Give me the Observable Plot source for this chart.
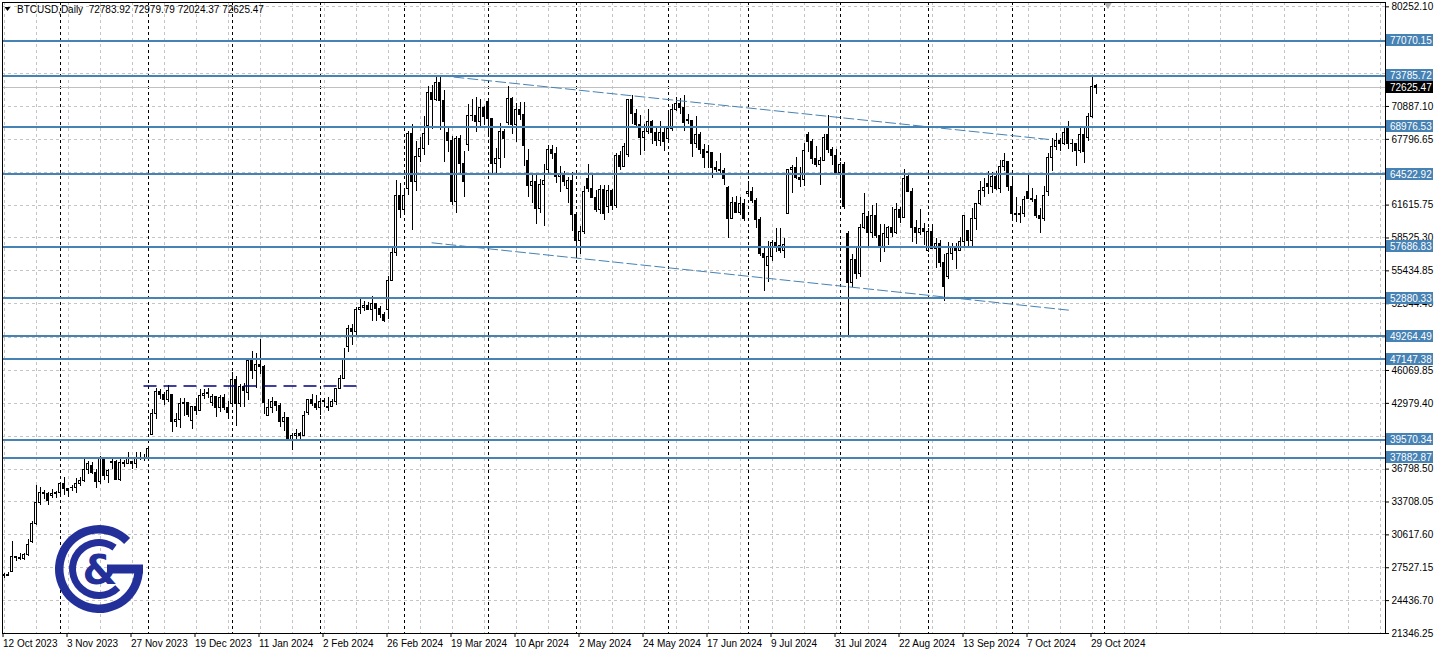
<!DOCTYPE html>
<html>
<head>
<meta charset="utf-8">
<script src="https://cdn.jsdelivr.net/npm/d3@7"></script>
<script src="https://cdn.jsdelivr.net/npm/@observablehq/plot@0.6"></script>
<style>
  html, body { margin: 0; padding: 0; background: #ffffff; overflow: hidden; }
  #chart svg { display: block; }
</style>
</head>
<body>
<div id="chart"></div>
<script>
// ---------------- DATA ----------------
const symbolName = "BTCUSD,Daily";

const dates = [
  "2023-10-12","2023-10-13","2023-10-16","2023-10-17","2023-10-18","2023-10-19","2023-10-20","2023-10-23","2023-10-24","2023-10-25","2023-10-26","2023-10-27","2023-10-30","2023-10-31",
  "2023-11-01","2023-11-02","2023-11-03","2023-11-06","2023-11-07","2023-11-08","2023-11-09","2023-11-10","2023-11-13","2023-11-14","2023-11-15","2023-11-16","2023-11-17","2023-11-20","2023-11-21","2023-11-22","2023-11-23","2023-11-24","2023-11-27","2023-11-28","2023-11-29","2023-11-30",
  "2023-12-01","2023-12-04","2023-12-05","2023-12-06","2023-12-07","2023-12-08","2023-12-11","2023-12-12","2023-12-13","2023-12-14","2023-12-15","2023-12-18","2023-12-19","2023-12-20","2023-12-21","2023-12-22","2023-12-25","2023-12-26","2023-12-27","2023-12-28","2023-12-29",
  "2024-01-02","2024-01-03","2024-01-04","2024-01-05","2024-01-08","2024-01-09","2024-01-10","2024-01-11","2024-01-12","2024-01-15","2024-01-16","2024-01-17","2024-01-18","2024-01-19","2024-01-22","2024-01-23","2024-01-24","2024-01-25","2024-01-26","2024-01-29","2024-01-30","2024-01-31",
  "2024-02-01","2024-02-02","2024-02-05","2024-02-06","2024-02-07","2024-02-08","2024-02-09","2024-02-12","2024-02-13","2024-02-14","2024-02-15","2024-02-16","2024-02-19","2024-02-20","2024-02-21","2024-02-22","2024-02-23","2024-02-26","2024-02-27","2024-02-28","2024-02-29",
  "2024-03-01","2024-03-04","2024-03-05","2024-03-06","2024-03-07","2024-03-08","2024-03-11","2024-03-12","2024-03-13","2024-03-14","2024-03-15","2024-03-18","2024-03-19","2024-03-20","2024-03-21","2024-03-22","2024-03-25","2024-03-26","2024-03-27","2024-03-28","2024-03-29",
  "2024-04-01","2024-04-02","2024-04-03","2024-04-04","2024-04-05","2024-04-08","2024-04-09","2024-04-10","2024-04-11","2024-04-12","2024-04-15","2024-04-16","2024-04-17","2024-04-18","2024-04-19","2024-04-22","2024-04-23","2024-04-24","2024-04-25","2024-04-26","2024-04-29","2024-04-30",
  "2024-05-01","2024-05-02","2024-05-03","2024-05-06","2024-05-07","2024-05-08","2024-05-09","2024-05-10","2024-05-13","2024-05-14","2024-05-15","2024-05-16","2024-05-17","2024-05-20","2024-05-21","2024-05-22","2024-05-23","2024-05-24","2024-05-27","2024-05-28","2024-05-29","2024-05-30","2024-05-31",
  "2024-06-03","2024-06-04","2024-06-05","2024-06-06","2024-06-07","2024-06-10","2024-06-11","2024-06-12","2024-06-13","2024-06-14","2024-06-17","2024-06-18","2024-06-19","2024-06-20","2024-06-21","2024-06-24","2024-06-25","2024-06-26","2024-06-27","2024-06-28",
  "2024-07-01","2024-07-02","2024-07-03","2024-07-04","2024-07-05","2024-07-08","2024-07-09","2024-07-10","2024-07-11","2024-07-12","2024-07-15","2024-07-16","2024-07-17","2024-07-18","2024-07-19","2024-07-22","2024-07-23","2024-07-24","2024-07-25","2024-07-26","2024-07-29","2024-07-30","2024-07-31",
  "2024-08-01","2024-08-02","2024-08-05","2024-08-06","2024-08-07","2024-08-08","2024-08-09","2024-08-12","2024-08-13","2024-08-14","2024-08-15","2024-08-16","2024-08-19","2024-08-20","2024-08-21","2024-08-22","2024-08-23","2024-08-26","2024-08-27","2024-08-28","2024-08-29","2024-08-30",
  "2024-09-02","2024-09-03","2024-09-04","2024-09-05","2024-09-06","2024-09-09","2024-09-10","2024-09-11","2024-09-12","2024-09-13","2024-09-16","2024-09-17","2024-09-18","2024-09-19","2024-09-20","2024-09-23","2024-09-24","2024-09-25","2024-09-26","2024-09-27","2024-09-30",
  "2024-10-01","2024-10-02","2024-10-03","2024-10-04","2024-10-07","2024-10-08","2024-10-09","2024-10-10","2024-10-11","2024-10-14","2024-10-15","2024-10-16","2024-10-17","2024-10-18","2024-10-21","2024-10-22","2024-10-23","2024-10-24","2024-10-25","2024-10-28","2024-10-29","2024-10-30"
];
// empty slots to the right of the last bar (chart shift area)
const futureSlots = ["2024-10-31","2024-11-01","2024-11-04"];

const opens = [
  26870,26760,27150,28520,28410,28330,28720,29990,31650,33600,34600,34500,34300,34500,
  34600,35420,34940,35050,35040,35420,35650,36700,37070,36460,35550,37880,36150,37390,37480,35810,37420,37290,37480,37250,37830,37850,
  37710,39980,41980,44080,43770,43290,43790,41240,41450,42890,43020,41360,42660,42260,43660,43870,42990,43610,42520,43440,42580,
  42900,45150,42900,44560,43930,46970,46000,46630,46370,41800,42510,43150,42740,41260,41580,39570,39890,40080,39940,42030,43300,42940,
  42580,43080,42580,42660,43080,44320,45300,48290,49960,49700,51800,51940,52120,51780,52280,51850,51300,51730,54520,57090,62500,
  61200,63170,68330,63800,66110,66930,69020,72120,71480,73100,71400,68390,67610,61940,67840,65500,67230,69960,69990,69450,70740,
  71330,69700,65460,65960,68510,69360,71620,69140,70590,70060,65740,63430,63810,61280,63510,64930,66840,66410,64290,64500,63120,63840,
  60640,58250,59120,64030,63160,62330,61190,63050,61450,62900,61550,66270,65230,66280,71450,70140,69120,67930,68500,69400,68370,67620,68360,
  67820,68800,70570,71080,70760,69650,69510,67330,68240,66760,66640,66490,65140,64960,64830,63180,60280,61800,60860,61700,
  62680,62850,62030,60170,57040,55850,56710,58050,57730,57340,60790,64870,65100,64120,63970,68190,67580,65930,65370,65800,68250,66780,66190,
  64620,65360,58900,54300,56500,55100,59500,60500,59000,60610,58740,57560,58480,59490,59010,61180,60380,64250,62830,59420,59030,59380,
  57330,59130,57480,57970,56160,54840,57020,57650,57340,58130,59190,58210,60310,61760,62950,63580,63340,64260,63140,65180,65640,
  63330,60800,60650,60750,62820,62220,62130,60580,60270,62850,66050,67040,67610,67400,69000,67370,67390,66660,68160,67930,69910,72783.92
];
const highs = [
  26940,27090,30000,28610,28900,28900,30200,31900,35250,35100,34800,34600,34850,34720,
  35580,35980,34950,35280,35890,35980,37930,37480,37420,36750,37950,37920,36790,37750,37650,37820,37600,38400,37560,38370,38400,38150,
  38950,42400,44400,44270,44040,44700,43800,42050,43430,43400,43080,42730,43400,44250,44240,44370,43800,43620,43680,43790,43120,
  45900,45500,44770,44800,47200,47890,47650,49000,46500,43330,43560,43190,42930,42140,41680,40130,40500,40280,42200,43300,43850,43740,
  43250,43420,43490,43350,44340,45580,48150,50280,50360,52000,52820,52570,52490,52990,52370,52060,51500,54900,57550,63910,63680,
  63100,68540,69170,67640,67980,69960,72800,72830,73650,73790,72360,68920,68110,68100,68160,66630,71100,71520,71710,71500,70910,
  71340,69700,66900,69290,68720,72720,71740,71170,71260,71230,66880,64360,64470,64030,65450,67230,67200,67050,65260,64790,64230,64700,
  60780,59600,63320,65450,64390,62990,63420,63450,63420,63090,66460,66700,67450,71480,71950,70620,70040,69220,70600,69560,68900,69500,69000,
  70230,71030,71740,71620,71950,70150,69560,69980,68440,67290,67190,66570,65690,66460,65040,63370,62290,62440,62340,62140,
  63790,63280,62240,60470,57500,58240,58270,59450,59380,58500,64880,65350,66060,65130,67380,68480,67810,67080,66120,68250,70000,66990,66810,
  65590,65590,59100,57000,57700,59800,62700,61000,61540,61760,59810,59800,59560,61360,61790,61390,64920,64490,63220,60180,61170,59880,
  59410,59810,58510,58300,56990,58090,58040,57990,58560,60620,59190,61320,61760,63850,64100,64740,64690,64780,65800,66480,65700,
  64100,62350,61470,62460,64480,63180,62540,61300,63400,66500,67890,68380,67920,68970,69490,67820,67430,68820,68770,70250,73620,72979.79
];
const lows = [
  26560,26690,27120,28110,28170,28180,28610,29850,31500,33400,33900,33400,34080,34050,
  34100,34360,34110,34740,34530,35120,35540,36330,36330,34930,35390,35700,35480,36750,35700,35640,36950,37250,36750,36900,37600,37520,
  37620,39960,41420,43380,42820,43080,40220,40680,40650,41750,41680,40560,41850,42220,43340,43440,42720,41680,42100,42320,41450,
  42600,40800,42630,42630,43240,45240,44330,45650,41950,41720,42060,42200,40700,40300,39450,38520,39490,39530,39830,41820,42700,42310,
  41880,42580,42260,42570,42790,44300,45250,47730,48390,49260,51320,51590,51680,50630,50670,50940,50540,50900,54470,56740,60360,
  60800,62500,59220,62850,65650,66300,67190,68730,71340,68670,65630,66600,61560,60810,64630,62330,66700,69440,68420,68930,69100,
  68110,64550,64490,65090,66020,69060,68210,67520,69560,65250,62330,61770,59770,60830,59600,64550,65870,63620,62790,63330,61790,59120,
  56550,56940,58850,62830,62300,60890,60770,60200,60800,61150,61330,64830,65110,66100,69200,68970,66310,66640,68230,67290,67130,67130,66700,
  67620,68560,70400,70150,68520,69230,66120,66920,66340,65080,65100,64090,64690,64530,63420,58470,60230,60820,60640,60070,
  62350,61790,59460,56800,53490,54330,56320,57160,57100,56600,60700,62740,64020,63280,63320,66590,65450,65130,63460,65750,66500,65320,64530,
  62250,61200,49260,53900,54600,54800,59300,57700,58520,58460,56180,57140,57840,58610,58820,59870,60360,62820,58120,57900,58780,57860,
  57140,57420,55670,55710,52550,54600,56410,55570,57340,57650,57610,57620,59190,61570,62370,62630,62700,62950,62670,64820,62890,
  60200,59980,59870,60460,62160,61850,60310,58900,60060,62450,64820,66750,66690,67200,66830,66600,65260,66500,65530,67580,69730,72024.37
];
const closes = [
  26760,26860,28520,28410,28330,28720,29680,31650,33600,34600,34500,33800,34500,34600,
  35420,34940,34730,35040,35420,35650,36700,37320,36460,35550,37880,36150,36600,37480,35810,37420,37290,37720,37250,37830,37850,37710,
  38690,41980,44080,43770,43290,44170,41240,41450,42890,43020,41930,42660,42260,43660,43870,43990,43610,42520,43440,42580,42070,
  45150,42900,44560,44100,46970,46000,46630,46370,43000,42510,43150,42740,41260,41620,39570,39890,40080,39940,41820,43300,42940,42580,
  43080,43190,42660,43080,44320,45300,47150,49960,49700,51800,51940,52160,51780,52280,51850,51300,50730,54520,57090,62500,61200,
  62440,68330,63800,66110,66930,68300,72120,71480,73100,71400,69400,67610,61940,67840,65500,63800,69960,69990,69450,70740,69890,
  69700,65460,65960,68510,67840,71620,69140,70590,70060,67200,63430,63810,61280,63510,63840,66840,66410,64290,64500,63770,63840,60640,
  58250,59120,62890,63160,62330,61190,63050,60790,62900,61550,66270,65230,67050,71450,70140,69120,67930,68530,69400,68370,67620,68360,67530,
  68800,70570,71080,70760,69340,69510,67330,68240,66760,66010,66490,65140,64960,64830,64100,60280,61800,60860,61700,60320,
  62850,62030,60170,57040,56660,56710,58050,57730,57340,57900,64870,65100,64120,63970,66710,67580,65930,65370,65800,67910,66780,66190,64620,
  65360,61420,54300,56500,55100,59500,60800,59000,60610,58740,57560,58870,59490,59010,61180,60380,64090,62830,59420,59030,59380,59120,
  59130,57480,57970,56160,53950,57020,57650,57340,58130,60570,58210,60310,61760,62950,63200,63340,64260,63140,65180,65790,63330,
  60800,60650,60750,62090,62220,62130,60580,60270,62450,66050,67040,67610,67400,68400,67370,67390,66660,68160,66650,69910,72720,72625.47
];

// horizontal support / resistance levels (blue)
const levels = [77070.15, 73785.72, 68976.53, 64522.92, 57686.83, 52880.33, 49264.49, 47147.38, 39570.34, 37882.87];
// dashed navy level
const navyLevel = {from: "2023-11-30", to: "2024-02-16", price: 44600};
// descending channel (two dashed blue trend lines)
const channelUpper = [{date: "2024-03-14", price: 73786}, {date: "2024-10-15", price: 67754}];
const channelLower = [{date: "2024-03-12", price: 58072}, {date: "2024-10-22", price: 51708}];

// price axis labels and extra grid rows (hidden behind level tags)
const priceTicks = [80252.10, 70887.10, 67796.65, 61615.75, 58525.30, 55434.85, 52344.40, 46069.85, 42979.40, 36798.50, 33708.05, 30617.60, 27527.15, 24436.70, 21346.25];
const hiddenGridRows = [77130.40, 74008.80, 64706.20, 49207.10, 39888.95];

// time axis labels
const xTickDates = ["2023-10-12","2023-11-03","2023-11-27","2023-12-19","2024-01-11","2024-02-02","2024-02-26","2024-03-19","2024-04-10","2024-05-02","2024-05-24","2024-06-17","2024-07-09","2024-07-31","2024-08-22","2024-09-13","2024-10-07","2024-10-29"];
const xTickLabels = ["12 Oct 2023","3 Nov 2023","27 Nov 2023","19 Dec 2023","11 Jan 2024","2 Feb 2024","26 Feb 2024","19 Mar 2024","10 Apr 2024","2 May 2024","24 May 2024","17 Jun 2024","9 Jul 2024","31 Jul 2024","22 Aug 2024","13 Sep 2024","7 Oct 2024","29 Oct 2024"];
// monthly period separators
const separatorDates = ["2023-11-01","2023-12-01","2024-01-02","2024-02-01","2024-03-01","2024-04-01","2024-05-01","2024-06-03","2024-07-01","2024-08-01","2024-09-02","2024-10-01","2024-11-01"];
// chart-shift marker slot
const shiftMarkerDate = "2024-11-04";

// ---------------- LAYOUT ----------------
const W = 1437, H = 659;
const M = {top: 2, right: 52, bottom: 26, left: 2};
const barStep = 4, firstBarX = 3.5;
const plotRight = W - M.right;
const xDomain = [(M.left - firstBarX) / barStep, (plotRight - firstBarX) / barStep];
const yDomain = [21346.25, 80660];
const FONT = "'Liberation Sans', Arial, sans-serif";
const LEVEL_BLUE = "#4682b4";

const slots = dates.concat(futureSlots);
const slot = d => slots.indexOf(d);
const bars = dates.map((date, i) => ({i, date, o: opens[i], h: highs[i], l: lows[i], c: closes[i]}));
const last = bars[bars.length - 1];
const xTicks = xTickDates.map(slot);
const xTickText = new Map(xTicks.map((k, j) => [k, xTickLabels[j]]));
const gridX = d3.range(0, xDomain[1], 8);
const gridY = priceTicks.concat(hiddenGridRows);
const separators = separatorDates.map(slot);
const channelData = [channelUpper, channelLower].map((ch, k) => ch.map(p => ({line: k, x: slot(p.date), y: p.price}))).flat();

const plot = Plot.plot({
  width: W, height: H,
  marginTop: M.top, marginRight: M.right, marginBottom: M.bottom, marginLeft: M.left,
  x: {type: "linear", domain: xDomain},
  y: {type: "linear", domain: yDomain},
  color: {type: "identity"},
  style: {fontFamily: FONT, fontSize: "10px", background: "#ffffff", color: "#000000", overflow: "visible"},
  marks: [
    Plot.ruleY(gridY, {stroke: "#c4c4c4", strokeDasharray: "3,3", shapeRendering: "crispEdges"}),
    Plot.ruleX(gridX, {stroke: "#c4c4c4", strokeDasharray: "3,3", shapeRendering: "crispEdges"}),
    Plot.ruleX(separators, {stroke: "#000000", strokeDasharray: "3,3", shapeRendering: "crispEdges"}),
    Plot.ruleY([last.c], {stroke: "#c0c0c0", shapeRendering: "crispEdges"}),
    // candles
    Plot.ruleX(bars, {x: "i", y1: "l", y2: "h", stroke: "#000000", strokeWidth: 1, shapeRendering: "crispEdges"}),
    Plot.rect(bars, {
      x1: d => d.i - 0.25, x2: d => d.i + 0.25,
      y1: d => Math.min(d.o, d.c), y2: d => Math.max(d.o, d.c),
      fill: d => d.c >= d.o ? "#ffffff" : "#000000",
      stroke: "#000000", strokeWidth: 1, shapeRendering: "crispEdges"
    }),
    // objects
    Plot.ruleY(levels, {stroke: LEVEL_BLUE, strokeWidth: 2, shapeRendering: "crispEdges"}),
    Plot.line(channelData, {x: "x", y: "y", z: "line", stroke: LEVEL_BLUE, strokeWidth: 1, strokeDasharray: "10,4"}),
    Plot.ruleY([navyLevel], {y: "price", x1: d => slot(d.from), x2: d => slot(d.to), stroke: "#000080", strokeWidth: 1.5, strokeDasharray: "13,7"}),
    // chart shift marker (small grey triangle at the top edge)
    Plot.dot([shiftMarkerDate], {x: d => slot(d), frameAnchor: "top", symbol: "triangle", r: 3, rotate: 180, fill: "#b0b0b0", stroke: "none", dy: 2}),
    // axes
    Plot.axisY(priceTicks, {anchor: "right", tickSize: 3, tickPadding: 3, tickFormat: d => d.toFixed(2), fontSize: 10}),
    Plot.axisX(xTicks, {anchor: "bottom", tickSize: 4, tickPadding: 2, tickFormat: k => xTickText.get(k), textAnchor: "start", dx: -1, fontSize: 10}),
    Plot.frame({stroke: "#000000"})
  ]
});

document.getElementById("chart").appendChild(plot);

// ---------- overlays derived from the plot's scales ----------
const svg = d3.select(plot);
const ys = plot.scale("y");

// price tags for levels and current price
const tags = svg.append("g").attr("font-family", FONT).attr("font-size", 10).attr("text-anchor", "start");
function tag(v, fill) {
  const y = Math.round(ys.apply(v));
  tags.append("rect").attr("x", plotRight + 1).attr("y", y - 6).attr("width", 47).attr("height", 12).attr("fill", fill);
  tags.append("text").attr("x", plotRight + 5).attr("y", y + 3.5).attr("fill", "#ffffff").attr("text-anchor", "start").text(v.toFixed(2));
}
levels.forEach(v => tag(v, LEVEL_BLUE));
tag(last.c, "#000000");

// header: symbol, timeframe and last bar OHLC
const header = svg.append("g").attr("font-family", FONT).attr("font-size", 10).attr("text-anchor", "start");
header.append("path").attr("d", "M4.5,7 L10.5,7 L7.5,11 Z").attr("fill", "#000000");
header.append("text").attr("x", 17).attr("y", 13).attr("text-anchor", "start").style("white-space", "pre")
  .text(`${symbolName}  ${last.o.toFixed(2)} ${last.h.toFixed(2)} ${last.l.toFixed(2)} ${last.c.toFixed(2)}`);

// broker logo (G & monogram)
const LOGO = "#23309a";
const logo = svg.append("g").attr("transform", "translate(99,569)").attr("fill", LOGO);
logo.append("path").attr("d", d3.arc()({innerRadius: 35.5, outerRadius: 44, startAngle: Math.PI / 2, endAngle: 2 * Math.PI + Math.PI / 4}));
logo.append("rect").attr("x", 8).attr("y", -4.5).attr("width", 36).attr("height", 9);
logo.append("path").attr("d", d3.arc()({innerRadius: 23, outerRadius: 30, startAngle: Math.PI * 0.75, endAngle: 2 * Math.PI + Math.PI / 5}));
logo.append("text").attr("x", 1).attr("y", 15).attr("text-anchor", "middle")
  .attr("font-family", "'DejaVu Sans', sans-serif").attr("font-weight", "bold").attr("font-size", 40).text("&");
</script>
</body>
</html>
